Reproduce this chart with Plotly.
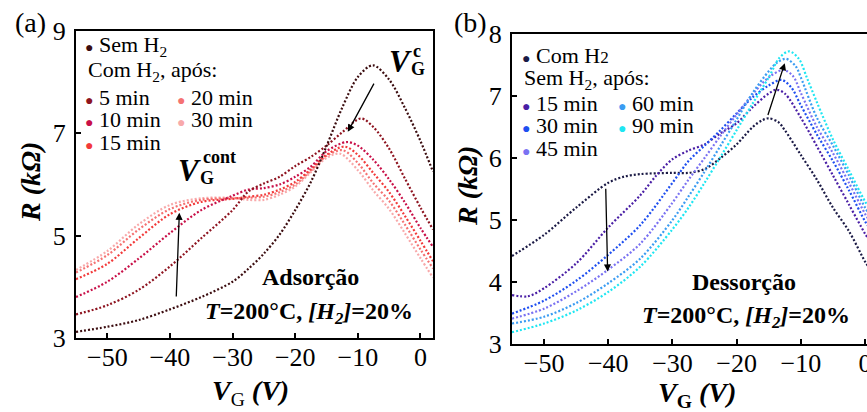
import plotly.graph_objects as go

W, H = 867, 412
SERIF = "Times New Roman, Liberation Serif, serif"

# ---------------- (a) Adsorção : R vs V_G ----------------
va_sem = [-55, -50, -45, -40, -35, -30, -27.5, -25, -22.5, -20, -17.5, -15, -12.5, -10, -7.6, -5, -2.5, 0, 2]
ra_sem = [3.12, 3.22, 3.35, 3.56, 3.8, 4.1, 4.35, 4.65, 5.02, 5.5, 6.05, 6.75, 7.5, 8.1, 8.33, 8.05, 7.5, 6.85, 6.25]

va_5 = [-55, -50, -45, -40, -35, -30, -27.5, -25, -22.5, -20, -17.5, -15, -12.5, -9.5, -7.5, -5, -2.5, 0, 2]
ra_5 = [3.46, 3.64, 3.94, 4.4, 4.95, 5.5, 5.86, 6.02, 6.15, 6.36, 6.54, 6.76, 7.02, 7.29, 7.12, 6.7, 6.12, 5.55, 5.12]

va_10 = [-55, -50, -45, -40, -35, -30, -27.5, -25, -22.5, -20, -17.5, -15, -11.8, -10, -7.5, -5, -2.5, 0, 2]
ra_10 = [3.8, 4.1, 4.55, 5.05, 5.5, 5.78, 5.9, 5.93, 6.0, 6.15, 6.35, 6.65, 6.83, 6.76, 6.48, 6.1, 5.65, 5.15, 4.78]

va_15 = [-55, -50, -45, -40, -35, -30, -27.5, -25, -22.5, -20, -17.5, -15, -12.1, -10, -7.5, -5, -2.5, 0, 2]
ra_15 = [4.15, 4.45, 4.95, 5.42, 5.66, 5.72, 5.76, 5.8, 5.9, 6.05, 6.3, 6.58, 6.74, 6.58, 6.22, 5.85, 5.39, 4.9, 4.5]

va_20 = [-55, -50, -45, -40, -35, -30, -27.5, -25, -22.5, -20, -17.5, -15, -12.4, -10, -7.5, -5, -2.5, 0, 2]
ra_20 = [4.28, 4.62, 5.12, 5.52, 5.7, 5.73, 5.74, 5.76, 5.85, 6.0, 6.27, 6.56, 6.67, 6.42, 6.02, 5.68, 5.22, 4.73, 4.36]

va_30 = [-55, -50, -45, -40, -35, -30, -27.5, -25, -22.5, -20, -17.5, -15, -12.8, -10, -7.5, -5, -2.5, 0, 2]
ra_30 = [4.33, 4.7, 5.22, 5.6, 5.73, 5.74, 5.7, 5.7, 5.8, 5.96, 6.24, 6.52, 6.6, 6.28, 5.88, 5.52, 5.05, 4.56, 4.18]

# ---------------- (b) Dessorção : R vs V_G ----------------
vb_com = [-55, -50, -45, -40, -37.5, -35, -30, -27.5, -25, -22.5, -20, -17.5, -16, -15, -13.5, -12.5, -10, -7.5, -5, -2.5, 0, 0.5]
rb_com = [4.42, 4.76, 5.2, 5.6, 5.7, 5.74, 5.76, 5.76, 5.82, 6.0, 6.22, 6.5, 6.61, 6.64, 6.58, 6.45, 6.05, 5.65, 5.2, 4.82, 4.33, 4.25]

vb_15 = [-55, -52.5, -50, -45, -40, -35, -32.5, -30, -27.5, -25, -22.5, -20, -17.5, -15, -13.8, -12.5, -10, -7.5, -5, -2.5, 0, 0.5]
rb_15 = [3.79, 3.77, 3.9, 4.3, 4.88, 5.4, 5.72, 5.98, 6.12, 6.22, 6.4, 6.56, 6.82, 7.04, 7.1, 7.04, 6.65, 6.19, 5.72, 5.25, 4.78, 4.7]

vb_30 = [-55, -50, -45, -40, -35, -30, -27.5, -25, -22.5, -20, -17.5, -15, -13, -11.5, -10, -7.5, -5, -2.5, 0, 0.5]
rb_30 = [3.49, 3.7, 4.02, 4.44, 4.92, 5.6, 5.95, 6.2, 6.45, 6.72, 6.98, 7.17, 7.26, 7.14, 6.85, 6.38, 5.95, 5.48, 4.98, 4.9]

vb_45 = [-55, -50, -45, -40, -35, -30, -27.5, -25, -22.5, -20, -17.5, -15, -12.7, -11.2, -10, -7.5, -5, -2.5, 0, 0.5]
rb_45 = [3.41, 3.57, 3.85, 4.2, 4.62, 5.28, 5.65, 6.0, 6.36, 6.7, 7.03, 7.3, 7.42, 7.32, 7.05, 6.5, 6.08, 5.6, 5.1, 5.02]

vb_60 = [-55, -50, -45, -40, -35, -30, -27.5, -25, -22.5, -20, -17.5, -15, -13.7, -12.3, -10.8, -10, -7.5, -5, -2.5, 0, 0.5]
rb_60 = [3.33, 3.44, 3.66, 3.98, 4.38, 5.0, 5.38, 5.78, 6.2, 6.62, 7.05, 7.4, 7.54, 7.6, 7.48, 7.3, 6.65, 6.2, 5.72, 5.2, 5.12]

vb_90 = [-55, -50, -45, -40, -35, -30, -27.5, -25, -22.5, -20, -17.5, -15, -13.3, -11.8, -10.3, -9, -7.5, -5, -2.5, 0, 0.5]
rb_90 = [3.19, 3.33, 3.54, 3.84, 4.25, 4.85, 5.2, 5.6, 6.02, 6.45, 6.88, 7.3, 7.62, 7.72, 7.6, 7.28, 6.9, 6.3, 5.8, 5.3, 5.22]

series_a = [
    (va_sem, ra_sem, "#3c0d10"),
    (va_5, ra_5, "#8e1420"),
    (va_10, ra_10, "#c81048"),
    (va_15, ra_15, "#f23a3a"),
    (va_20, ra_20, "#f57272"),
    (va_30, ra_30, "#f8a9aa"),
]
series_b = [
    (vb_com, rb_com, "#1b1a45"),
    (vb_15, rb_15, "#4a1fa5"),
    (vb_30, rb_30, "#1f4ff0"),
    (vb_45, rb_45, "#7a72f2"),
    (vb_60, rb_60, "#3b9cf2"),
    (vb_90, rb_90, "#1fe6f2"),
]

fig = go.Figure()


def add_curve(v, r, color, xa, ya):
    fig.add_trace(go.Scatter(
        x=v, y=r, mode="lines", xaxis=xa, yaxis=ya, showlegend=False,
        line=dict(color=color, width=2.2, dash="2px,2px", shape="spline", smoothing=0.9),
        hoverinfo="skip",
    ))


# lighter curves first so the darker ones sit on top
for v, r, c in reversed(series_a):
    add_curve(v, r, c, "x", "y")
for v, r, c in series_b:
    add_curve(v, r, c, "x2", "y2")


def px(x, y):
    return x / W, 1 - y / H


ann = []


def text(x, y, s, size=22, xanchor="left", yanchor="middle", angle=0, color="black"):
    xp, yp = px(x, y)
    ann.append(dict(x=xp, y=yp, xref="paper", yref="paper", text=s, showarrow=False,
                    xanchor=xanchor, yanchor=yanchor, textangle=angle,
                    font=dict(family=SERIF, size=size, color=color)))


def dot(color):
    return f"<span style='color:{color};font-size:14px'>●</span>"


# legend of panel (a)
ca = [c for _, _, c in series_a]
text(83, 46, dot(ca[0]) + " Sem H<sub>2</sub>")
text(86, 71, "Com H<sub>2</sub>, após:")
text(83, 97, dot(ca[1]) + " 5 min")
text(83, 119, dot(ca[2]) + " 10 min")
text(83, 142, dot(ca[3]) + " 15 min")
text(175, 97, dot(ca[4]) + " 20 min")
text(175, 119, dot(ca[5]) + " 30 min")

# legend of panel (b)
cb = [c for _, _, c in series_b]
text(520, 55, dot(cb[0]) + " Com H<span style='font-size:17px'>2</span>")
text(522, 79, "Sem H<sub>2</sub>, após:")
text(520, 103, dot(cb[1]) + " 15 min")
text(520, 126, dot(cb[2]) + " 30 min")
text(520, 149, dot(cb[3]) + " 45 min")
text(616, 103, dot(cb[4]) + " 60 min")
text(616, 126, dot(cb[5]) + " 90 min")

# V_G^c and V_G^cont labels
text(400, 62, "<b><i>V</i></b>", size=31, xanchor="center")
text(417, 51, "<b>c</b>", size=18, xanchor="center")
text(418, 69, "<b>G</b>", size=18, xanchor="center")
text(189, 170, "<b><i>V</i></b>", size=31, xanchor="center")
text(219, 157, "<b>cont</b>", size=18, xanchor="center")
text(207, 178, "<b>G</b>", size=18, xanchor="center")

# condition labels
text(310, 277, "<b>Adsorção</b>", size=24, xanchor="center")
text(309, 313, "<b><i>T</i>=200°C, <i>[H<sub>2</sub>]</i>=20%</b>", size=24, xanchor="center")
text(744, 282, "<b>Dessorção</b>", size=24, xanchor="center")
text(746, 317, "<b><i>T</i>=200°C, <i>[H<sub>2</sub>]</i>=20%</b>", size=24, xanchor="center")

# axis titles and panel tags
text(250, 392, "<b><i>V</i></b><sub>G</sub><b><i> (V)</i></b>", size=28, xanchor="center")
text(697, 394, "<b><i>V</i><sub>G</sub><i> (V)</i></b>", size=28, xanchor="center")
text(30, 182, "<b><i>R (kΩ)</i></b>", size=28, xanchor="center", angle=-90)
text(467, 186, "<b><i>R (kΩ)</i></b>", size=28, xanchor="center", angle=-90)
text(30, 23, "(a)", size=28, xanchor="center")
text(470, 23, "(b)", size=28, xanchor="center")

# trend arrows
arrows = [
    ("x", "y", -38.5, 5.45, -39.0, 3.78),
    ("x", "y", -11.6, 7.03, -7.3, 8.0),
    ("x2", "y2", -40.1, 4.17, -40.4, 5.53),
    ("x2", "y2", -12.5, 7.53, -15.2, 6.67),
]
for xa, ya, x, y, ax, ay in arrows:
    ann.append(dict(x=x, y=y, ax=ax, ay=ay, xref=xa, yref=ya, axref=xa, ayref=ya,
                    text="", showarrow=True, arrowhead=2, arrowsize=1.1,
                    arrowwidth=1.3, arrowcolor="black"))

axis_common = dict(
    showline=True, linewidth=2, linecolor="black", ticks="inside", ticklen=5,
    tickwidth=1.5, tickcolor="black", showgrid=False, zeroline=False,
    tickfont=dict(family=SERIF, size=26, color="black"), automargin=False,
    ticklabeloverflow="allow",
)

fig.update_layout(
    width=W, height=H, margin=dict(l=0, r=0, t=0, b=0),
    paper_bgcolor="white", plot_bgcolor="white", showlegend=False,
    xaxis=dict(domain=[76 / W, 433 / W], range=[-55, 2], dtick=10, tick0=0,
               anchor="y", mirror=True, ticklabelstandoff=-5, **axis_common),
    yaxis=dict(domain=[1 - 338 / H, 1 - 31 / H], range=[3, 9], dtick=2, tick0=3,
               anchor="x", mirror=True, ticklabelstandoff=3, **axis_common),
    xaxis2=dict(domain=[512 / W, 1], range=[-55, 0.31], dtick=10, tick0=0,
                anchor="y2", mirror=True, ticklabelstandoff=-5, **axis_common),
    yaxis2=dict(domain=[1 - 344 / H, 1 - 34 / H], range=[3, 8], dtick=1, tick0=3,
                anchor="x2", mirror=False, ticklabelstandoff=3, **axis_common),
    annotations=ann,
)

fig.write_html("out.html")
